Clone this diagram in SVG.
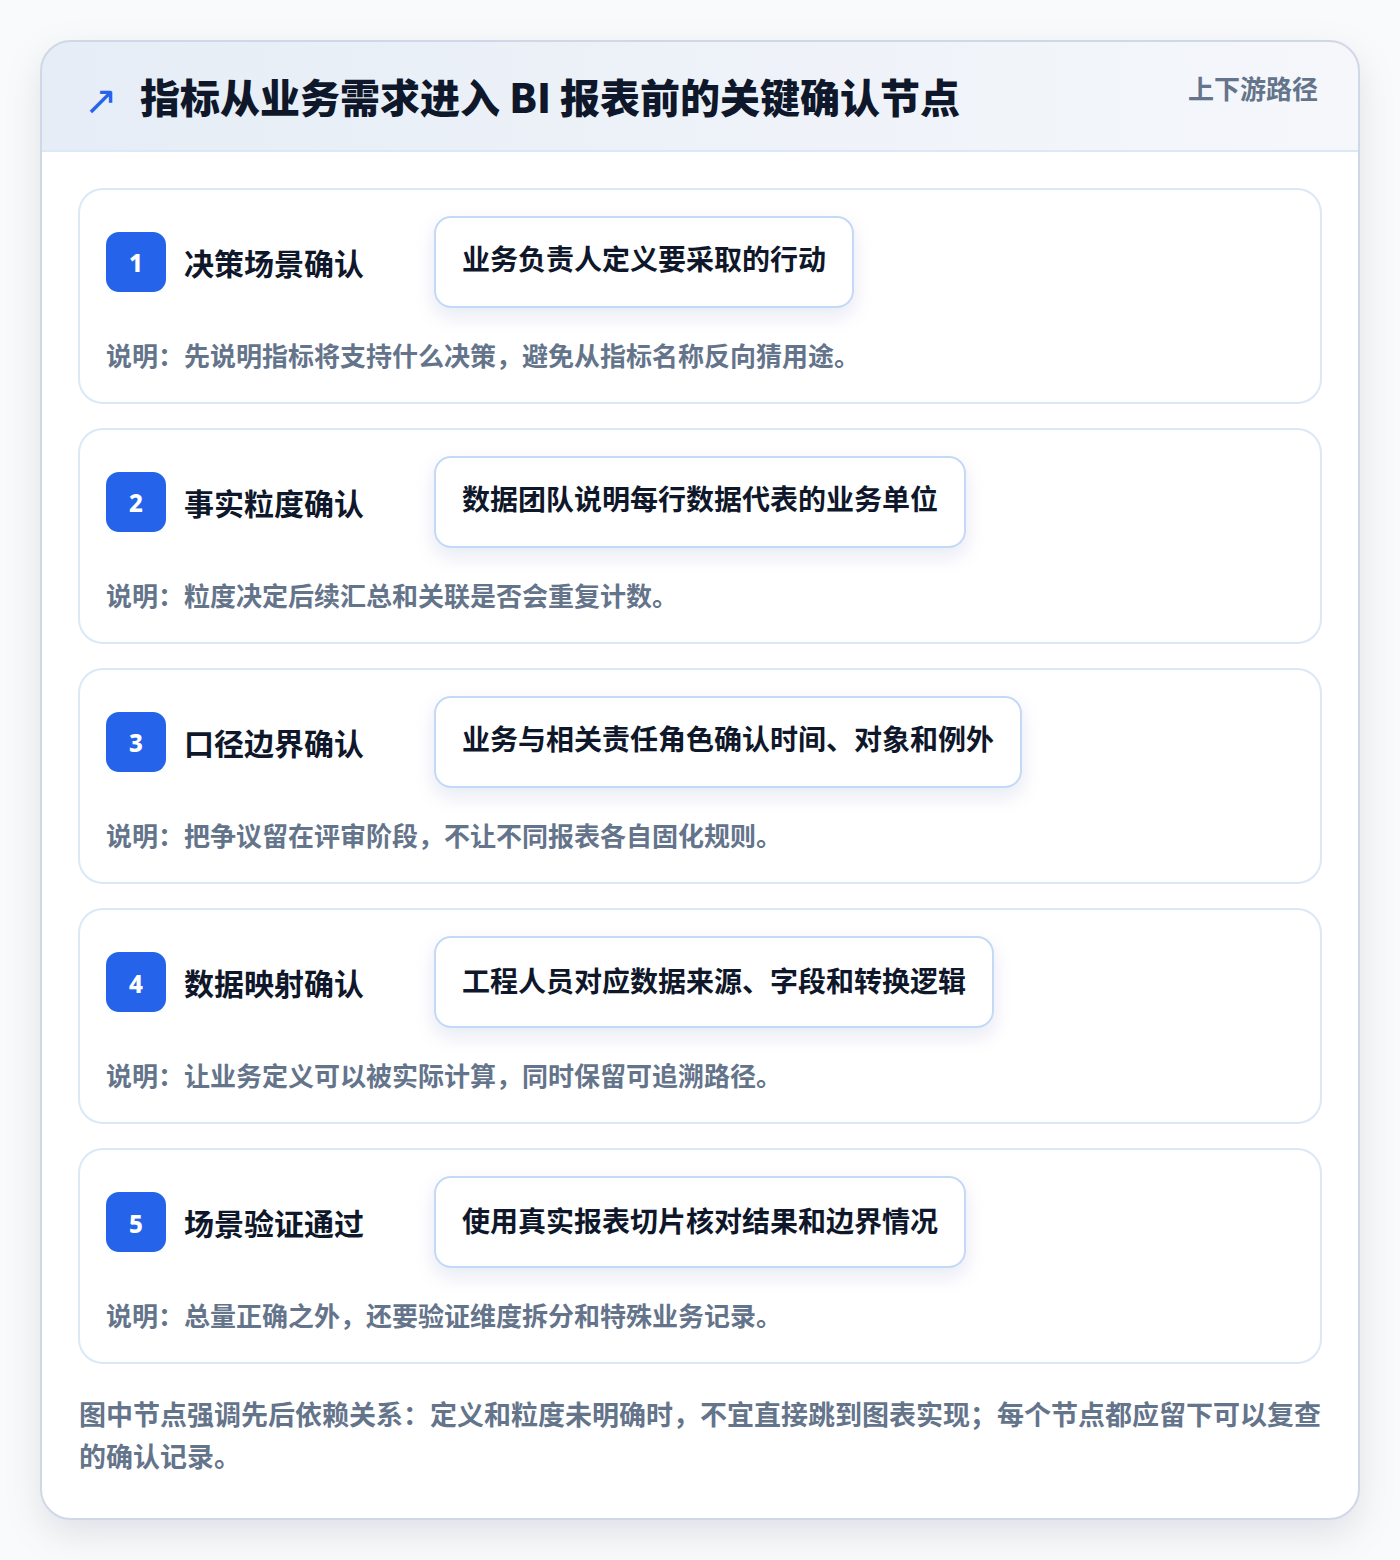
<svg xmlns="http://www.w3.org/2000/svg" width="1400" height="1560" viewBox="0 0 1400 1560">
<defs>
<linearGradient id="hdr" x1="0" y1="0" x2="1" y2="0">
<stop offset="0" stop-color="#e6edf6"/>
<stop offset="1" stop-color="#f5f7fb"/>
</linearGradient>
<filter id="cardShadow" x="-10%" y="-10%" width="120%" height="120%">
<feDropShadow dx="0" dy="14" stdDeviation="18" flood-color="#0f172a" flood-opacity="0.10"/>
</filter>
<filter id="boxShadow" x="-20%" y="-30%" width="140%" height="170%">
<feDropShadow dx="0" dy="8" stdDeviation="9" flood-color="#1e3a8a" flood-opacity="0.10"/>
</filter>
<clipPath id="cardClip"><rect x="41" y="41" width="1318" height="1478" rx="30"/></clipPath>
</defs>
<style>
text{font-family:"Noto Sans CJK SC","Noto Sans",sans-serif;font-weight:700}
.step{fill:#ffffff;stroke:#dbe8f6;stroke-width:2}
.badge{fill:#2563eb}
.num{fill:#ffffff;font-size:24px;font-weight:800;font-family:"Noto Sans","Noto Sans CJK SC",sans-serif}
.stitle{fill:#0f172a;font-size:30px}
.abox{fill:#ffffff;stroke:#c3d9f5;stroke-width:2}
.atext{fill:#0f172a;font-size:28px}
.desc{fill:#64748b;font-size:26px}
</style>
<rect width="1400" height="1560" fill="#f9fafb"/>
<rect x="41" y="41" width="1318" height="1478" rx="30" fill="#ffffff" filter="url(#cardShadow)"/>
<g clip-path="url(#cardClip)">
<rect x="41" y="41" width="1318" height="110" fill="url(#hdr)"/>
<line x1="41" y1="151" x2="1359" y2="151" stroke="#dbe8f6" stroke-width="2"/>
</g>
<rect x="41" y="41" width="1318" height="1478" rx="30" fill="none" stroke="#cfd8e6" stroke-width="2"/>
<g id="header">
<text x="84" y="114" fill="#2563eb" font-size="40" style="font-family:'DejaVu Sans',sans-serif;font-weight:400">↗</text>
<text x="140" y="113" fill="#0f172a" font-size="40" style="font-weight:900">指标从业务需求进入 BI 报表前的关键确认节点</text>
<text x="1318" y="99" fill="#64748b" font-size="26" text-anchor="end">上下游路径</text>
</g>
<g id="connectors"/>
<g id="step1">
<rect class="step" x="79" y="189" width="1242" height="214" rx="24"/>
<rect class="badge" x="106" y="232" width="60" height="60" rx="13"/>
<text class="num" x="136" y="272" text-anchor="middle">1</text>
<text class="stitle" x="184" y="275">决策场景确认</text>
<rect class="abox" x="435" y="217" width="418" height="90" rx="16" filter="url(#boxShadow)"/>
<text class="atext" x="462" y="270">业务负责人定义要采取的行动</text>
<text class="desc" x="106" y="366">说明：先说明指标将支持什么决策，避免从指标名称反向猜用途。</text>
</g>
<g id="step2">
<rect class="step" x="79" y="429" width="1242" height="214" rx="24"/>
<rect class="badge" x="106" y="472" width="60" height="60" rx="13"/>
<text class="num" x="136" y="512" text-anchor="middle">2</text>
<text class="stitle" x="184" y="515">事实粒度确认</text>
<rect class="abox" x="435" y="457" width="530" height="90" rx="16" filter="url(#boxShadow)"/>
<text class="atext" x="462" y="510">数据团队说明每行数据代表的业务单位</text>
<text class="desc" x="106" y="606">说明：粒度决定后续汇总和关联是否会重复计数。</text>
</g>
<g id="step3">
<rect class="step" x="79" y="669" width="1242" height="214" rx="24"/>
<rect class="badge" x="106" y="712" width="60" height="60" rx="13"/>
<text class="num" x="136" y="752" text-anchor="middle">3</text>
<text class="stitle" x="184" y="755">口径边界确认</text>
<rect class="abox" x="435" y="697" width="586" height="90" rx="16" filter="url(#boxShadow)"/>
<text class="atext" x="462" y="750">业务与相关责任角色确认时间、对象和例外</text>
<text class="desc" x="106" y="846">说明：把争议留在评审阶段，不让不同报表各自固化规则。</text>
</g>
<g id="step4">
<rect class="step" x="79" y="909" width="1242" height="214" rx="24"/>
<rect class="badge" x="106" y="952" width="60" height="60" rx="13"/>
<text class="num" x="136" y="993" text-anchor="middle">4</text>
<text class="stitle" x="184" y="995">数据映射确认</text>
<rect class="abox" x="435" y="937" width="558" height="90" rx="16" filter="url(#boxShadow)"/>
<text class="atext" x="462" y="992">工程人员对应数据来源、字段和转换逻辑</text>
<text class="desc" x="106" y="1086">说明：让业务定义可以被实际计算，同时保留可追溯路径。</text>
</g>
<g id="step5">
<rect class="step" x="79" y="1149" width="1242" height="214" rx="24"/>
<rect class="badge" x="106" y="1192" width="60" height="60" rx="13"/>
<text class="num" x="136" y="1233" text-anchor="middle">5</text>
<text class="stitle" x="184" y="1235">场景验证通过</text>
<rect class="abox" x="435" y="1177" width="530" height="90" rx="16" filter="url(#boxShadow)"/>
<text class="atext" x="462" y="1232">使用真实报表切片核对结果和边界情况</text>
<text class="desc" x="106" y="1326">说明：总量正确之外，还要验证维度拆分和特殊业务记录。</text>
</g>
<g id="footer">
<text x="79" y="1425" fill="#64748b" font-size="27">图中节点强调先后依赖关系：定义和粒度未明确时，不宜直接跳到图表实现；每个节点都应留下可以复查</text>
<text x="79" y="1467" fill="#64748b" font-size="27">的确认记录。</text>
</g>
</svg>
